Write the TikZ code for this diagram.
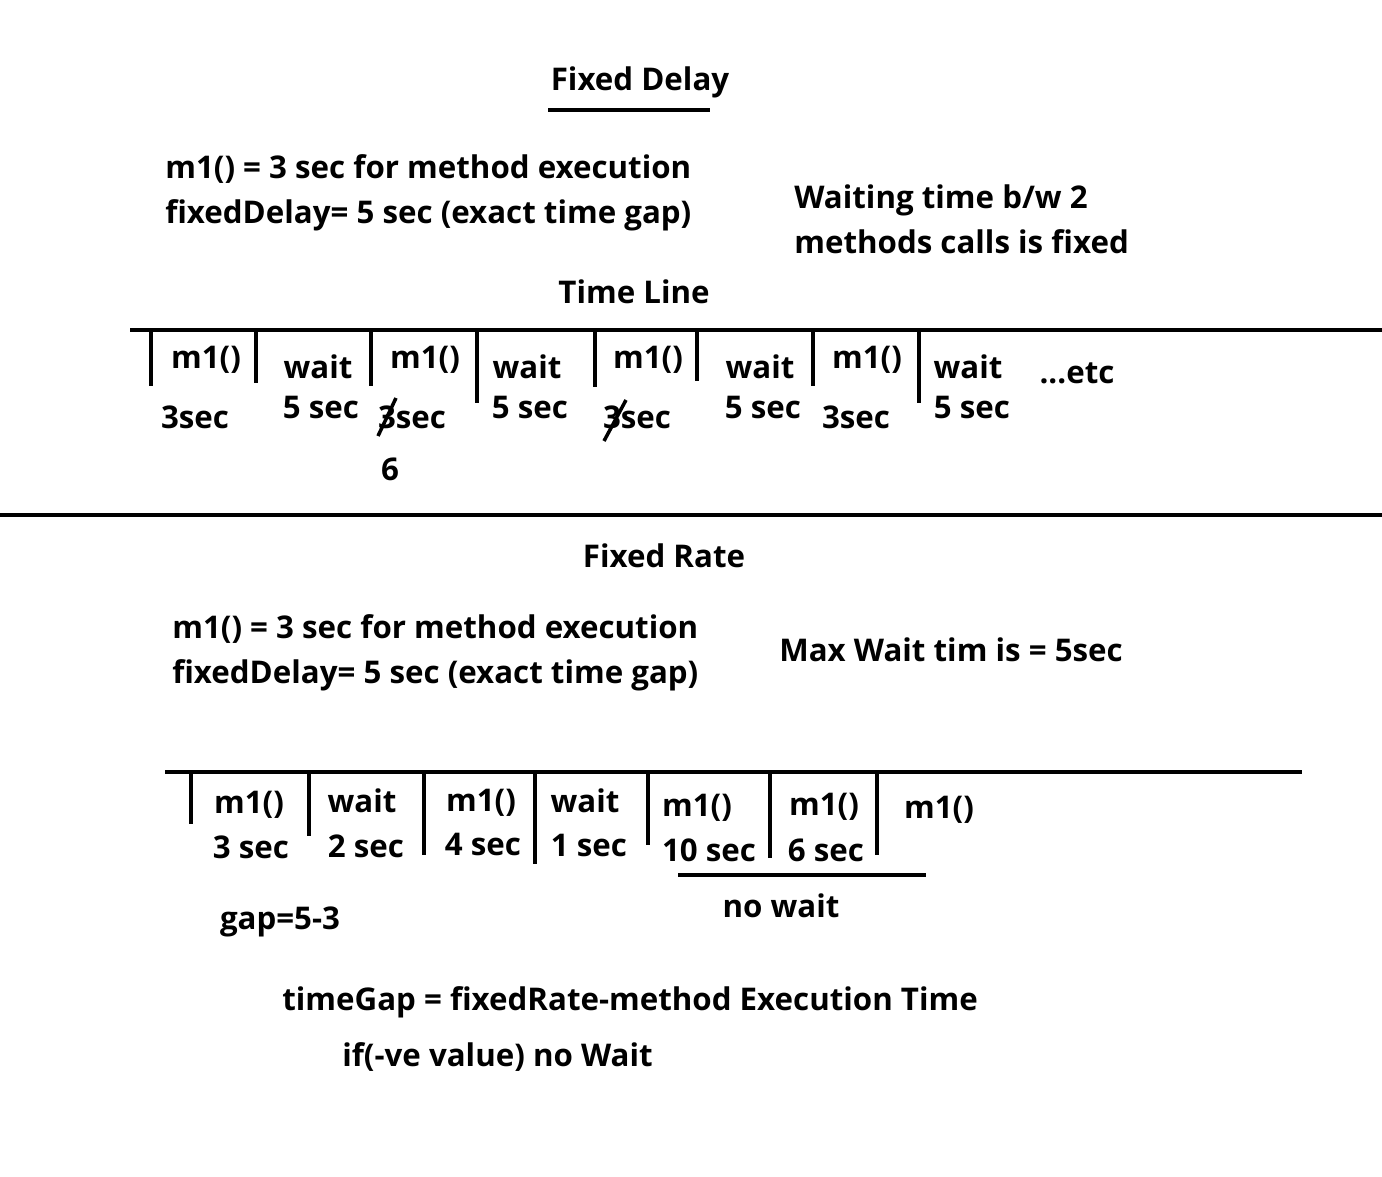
\documentclass[tikz,border=0pt]{standalone}
\usepackage{fontspec}
\setmainfont{Open Sans}
\begin{document}
\begin{tikzpicture}[x=0.02cm,y=-0.02cm,
  txt/.style={font=\fontsize{17.8}{21}\selectfont\bfseries,inner sep=0pt,anchor=mid,yshift=-0.11cm},
  ltxt/.style={txt,anchor=mid west},
  bar/.style={line width=2.2pt},
  rule/.style={line width=2.4pt}]
  \useasboundingbox (0,0) rectangle (1382,1176);

  % Fixed Delay heading
  \node[txt] (fdtitle) at (640,80) {Fixed Delay};
  \draw[rule] (548,110) -- (710,110);
  \node[ltxt] (fdexec) at (165,168) {m1() = 3 sec for method execution};
  \node[ltxt] (fdgap) at (165,213) {fixedDelay= 5 sec (exact time gap)};
  \node[ltxt] (fdnote1) at (794,198) {Waiting time b/w 2};
  \node[ltxt] (fdnote2) at (794,243) {methods calls is fixed};
  \node[txt] (timeline) at (634,293) {Time Line};

  % Time line (fixed delay)
  \draw[rule] (130,330) -- (1382,330);
  \foreach \x/\y in {151/386,256/383,371/386,477/403,595/387,697/381,813/386,919/403}
    \draw[bar] (\x,330) -- (\x,\y);

  % First row
  \foreach \x/\n in {206/a,425/b,648/c,867/d}
    \node[txt] (call\n) at (\x,358) {m1()};
  \foreach \x/\n in {318/a,527/b,760/c,968/d}
    \node[txt] (wait\n) at (\x,368) {wait};
  \node[txt] (etc) at (1077,373) {...etc};

  % Second row
  \node[txt] (dura) at (195,418) {3sec};
  \node[txt] (durb) at (412,418) {3sec};
  \node[txt] (durc) at (637,418) {3sec};
  \node[txt] (durd) at (856,418) {3sec};
  \foreach \x/\n in {321/a,530/b,763/c,972/d}
    \node[txt] (gap\n) at (\x,408) {5 sec};
  \draw[line width=2pt] (378,436) -- (396,398);
  \draw[line width=2pt] (604,441) -- (626,400);
  \node[txt] (six) at (390,470) {6};

  % Separator
  \draw[rule] (0,515) -- (1382,515);

  % Fixed Rate heading
  \node[txt] (frtitle) at (664,557) {Fixed Rate};
  \node[ltxt] (frexec) at (172,628) {m1() = 3 sec for method execution};
  \node[ltxt] (frgap) at (172,673) {fixedDelay= 5 sec (exact time gap)};
  \node[ltxt] (frnote) at (779,651) {Max Wait tim is = 5sec};

  % Time line (fixed rate)
  \draw[rule] (165,772) -- (1302,772);
  \foreach \x/\y in {191/824,309/836,424/855,535/864,648/845,770/858,877/855}
    \draw[bar] (\x,772) -- (\x,\y);

  % Labels
  \node[txt] (ra) at (249,803) {m1()};
  \node[txt] (rb) at (362,802) {wait};
  \node[txt] (rc) at (481,801) {m1()};
  \node[txt] (rd) at (585,802) {wait};
  \node[txt] (re) at (697,806) {m1()};
  \node[txt] (rf) at (824,805) {m1()};
  \node[txt] (rg) at (939,808) {m1()};
  \node[txt] (sa) at (251,848) {3 sec};
  \node[txt] (sb) at (366,847) {2 sec};
  \node[txt] (sc) at (483,845) {4 sec};
  \node[txt] (sd) at (589,846) {1 sec};
  \node[txt] (se) at (709,851) {10 sec};
  \node[txt] (sf) at (826,851) {6 sec};
  \draw[rule] (678,875) -- (926,875);
  \node[txt] (nowait) at (781,907) {no wait};
  \node[txt] (gapcalc) at (280,919) {gap=5-3};
  \node[ltxt] (formula) at (282,1000) {timeGap = fixedRate-method Execution Time};
  \node[ltxt] (negrule) at (342,1056) {if(-ve value) no Wait};
\end{tikzpicture}
\end{document}
